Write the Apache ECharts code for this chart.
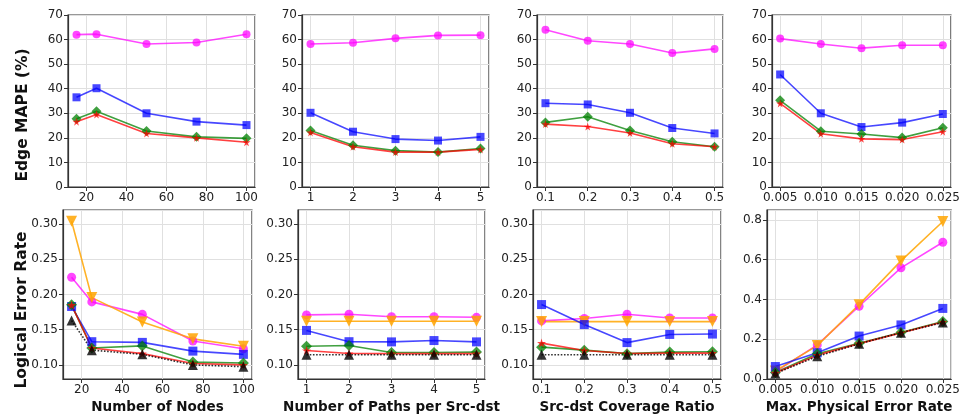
<!DOCTYPE html>
<html><head><meta charset="utf-8">
<script src="https://cdn.jsdelivr.net/npm/echarts@6/dist/echarts.min.js"></script>
<style>html,body{margin:0;padding:0;background:#fff}#c{width:963px;height:415px}</style>
</head><body><div id="c"></div>
<script>
// ---------- x categories ----------
const xNodes = [15, 25, 50, 75, 100];
const xPaths = [1, 2, 3, 4, 5];
const xCoverage = [0.1, 0.2, 0.3, 0.4, 0.5];
const xPhysErr = [0.005, 0.010, 0.015, 0.020, 0.025];

// ---------- Edge MAPE (%) ----------
const mapeNodesMagenta = [62.0, 62.2, 58.2, 58.8, 62.2];
const mapeNodesBlue    = [36.5, 40.2, 30.0, 26.6, 25.2];
const mapeNodesGreen   = [27.8, 30.8, 22.8, 20.4, 19.8];
const mapeNodesRed     = [26.6, 29.5, 21.8, 20.0, 18.2];

const mapePathsMagenta = [58.2, 58.7, 60.5, 61.7, 61.8];
const mapePathsBlue    = [30.2, 22.5, 19.5, 18.9, 20.4];
const mapePathsGreen   = [23.0, 17.0, 14.8, 14.2, 15.7];
const mapePathsRed     = [22.2, 16.4, 14.2, 14.2, 15.3];

const mapeCovMagenta = [64.0, 59.5, 58.2, 54.5, 56.2];
const mapeCovBlue    = [34.1, 33.6, 30.2, 24.0, 21.8];
const mapeCovGreen   = [26.3, 28.6, 23.0, 18.4, 16.4];
const mapeCovRed     = [25.6, 24.6, 22.0, 17.6, 16.4];

const mapeErrMagenta = [60.4, 58.2, 56.5, 57.7, 57.7];
const mapeErrBlue    = [45.8, 30.0, 24.4, 26.2, 29.7];
const mapeErrGreen   = [35.3, 22.7, 21.6, 20.1, 24.1];
const mapeErrRed     = [34.0, 21.7, 19.6, 19.3, 22.5];

// ---------- Logical Error Rate ----------
const lerNodesMagenta = [0.2245, 0.1895, 0.1718, 0.1340, 0.1230];
const lerNodesOrange  = [0.3040, 0.1956, 0.1610, 0.1370, 0.1266];
const lerNodesBlue    = [0.1830, 0.1330, 0.1320, 0.1196, 0.1150];
const lerNodesGreen   = [0.1853, 0.1240, 0.1270, 0.1040, 0.1028];
const lerNodesRed     = [0.1850, 0.1240, 0.1160, 0.1020, 0.1000];
const lerNodesBlack   = [0.1630, 0.1210, 0.1150, 0.1000, 0.0975];

const lerPathsMagenta = [0.1710, 0.1720, 0.1685, 0.1685, 0.1676];
const lerPathsOrange  = [0.1620, 0.1620, 0.1620, 0.1620, 0.1620];
const lerPathsBlue    = [0.1490, 0.1330, 0.1327, 0.1346, 0.1327];
const lerPathsGreen   = [0.1266, 0.1275, 0.1177, 0.1177, 0.1182];
const lerPathsRed     = [0.1205, 0.1163, 0.1160, 0.1160, 0.1160];
const lerPathsBlack   = [0.1145, 0.1145, 0.1145, 0.1145, 0.1145];

const lerCovMagenta = [0.1625, 0.1660, 0.1720, 0.1667, 0.1667];
const lerCovOrange  = [0.1615, 0.1615, 0.1615, 0.1615, 0.1615];
const lerCovBlue    = [0.1857, 0.1573, 0.1317, 0.1433, 0.1438];
const lerCovGreen   = [0.1252, 0.1210, 0.1160, 0.1182, 0.1186];
const lerCovRed     = [0.1310, 0.1205, 0.1163, 0.1168, 0.1168];
const lerCovBlack   = [0.1145, 0.1145, 0.1145, 0.1145, 0.1145];

const lerErrMagenta = [0.036, 0.1715, 0.366, 0.559, 0.688];
const lerErrOrange  = [0.040, 0.168, 0.374, 0.594, 0.792];
const lerErrBlue    = [0.0627, 0.132, 0.216, 0.272, 0.355];
const lerErrGreen   = [0.033, 0.127, 0.180, 0.234, 0.289];
const lerErrRed     = [0.030, 0.120, 0.178, 0.232, 0.287];
const lerErrBlack   = [0.028, 0.114, 0.177, 0.233, 0.284];

// ---------- labels ----------
const xTitles = ['Number of Nodes', 'Number of Paths per Src-dst', 'Src-dst Coverage Ratio', 'Max. Physical Error Rate'];
const yTitleTop = 'Edge MAPE (%)';
const yTitleBottom = 'Logical Error Rate';

// ---------- styling / layout ----------
const FONT = 'DejaVu Sans';
const TXT = '#222';
const SPINE = '#333';
const GRIDC = '#e0e0e0';

const grids = [
  {left: 68, top: 15, width: 187, height: 172},
  {left: 302, top: 15, width: 187, height: 172},
  {left: 537, top: 15, width: 186, height: 172},
  {left: 772, top: 15, width: 187, height: 172},
  {left: 63, top: 210, width: 189, height: 172},
  {left: 298, top: 210, width: 187, height: 172},
  {left: 533, top: 210, width: 188, height: 172},
  {left: 767, top: 210, width: 188, height: 172}
];
const xRanges = [[10.75, 104.25], [0.8, 5.2], [0.08, 0.52], [0.004, 0.026]];
const xFmt = [v => String(Math.round(v)), v => String(Math.round(v)), v => v.toFixed(1), v => v.toFixed(3)];

const STAR = 'path://M50,0 L61,35 L98,35 L68,57 L79,91 L50,70 L21,91 L32,57 L2,35 L39,35 Z';
const styles = {
  magenta: {color: 'rgba(255,0,255,0.72)', symbol: 'circle', size: 8, rot: 0, type: 'solid'},
  orange:  {color: 'rgba(255,165,0,0.85)', symbol: 'triangle', size: 10, rot: 180, type: 'solid'},
  blue:    {color: 'rgba(0,0,255,0.72)', symbol: 'rect', size: 8, rot: 0, type: 'solid'},
  green:   {color: 'rgba(0,128,0,0.75)', symbol: 'diamond', size: 10, rot: 0, type: 'solid'},
  red:     {color: 'rgba(255,0,0,0.75)', symbol: STAR, size: 8, rot: 0, type: 'solid'},
  black:   {color: 'rgba(0,0,0,0.8)', symbol: 'triangle', size: 9, rot: 0, type: 'dotted'}
};

const panels = [
  {x: xNodes, s: {magenta: mapeNodesMagenta, blue: mapeNodesBlue, green: mapeNodesGreen, red: mapeNodesRed}},
  {x: xPaths, s: {magenta: mapePathsMagenta, blue: mapePathsBlue, green: mapePathsGreen, red: mapePathsRed}},
  {x: xCoverage, s: {magenta: mapeCovMagenta, blue: mapeCovBlue, green: mapeCovGreen, red: mapeCovRed}},
  {x: xPhysErr, s: {magenta: mapeErrMagenta, blue: mapeErrBlue, green: mapeErrGreen, red: mapeErrRed}},
  {x: xNodes, s: {magenta: lerNodesMagenta, orange: lerNodesOrange, blue: lerNodesBlue, green: lerNodesGreen, red: lerNodesRed, black: lerNodesBlack}},
  {x: xPaths, s: {magenta: lerPathsMagenta, orange: lerPathsOrange, blue: lerPathsBlue, green: lerPathsGreen, red: lerPathsRed, black: lerPathsBlack}},
  {x: xCoverage, s: {magenta: lerCovMagenta, orange: lerCovOrange, blue: lerCovBlue, green: lerCovGreen, red: lerCovRed, black: lerCovBlack}},
  {x: xPhysErr, s: {magenta: lerErrMagenta, orange: lerErrOrange, blue: lerErrBlue, green: lerErrGreen, red: lerErrRed, black: lerErrBlack}}
];

const axisCommon = {
  axisLine: {show: true, onZero: false, lineStyle: {color: SPINE, width: 1.2}},
  axisTick: {show: true, inside: false, length: 4, lineStyle: {color: SPINE, width: 1}},
  splitLine: {show: true, lineStyle: {color: GRIDC, width: 1}},
  axisLabel: {color: TXT, fontFamily: FONT, fontSize: 12, margin: 5, showMinLabel: false, showMaxLabel: false}
};

const option = {
  animation: false,
  backgroundColor: '#fff',
  grid: grids.map(g => Object.assign({show: true, borderColor: SPINE, borderWidth: 1.2, backgroundColor: 'transparent', containLabel: false}, g)),
  xAxis: grids.map((g, i) => {
    const c = i % 4;
    return Object.assign({}, axisCommon, {
      type: 'value', gridIndex: i,
      min: xRanges[c][0], max: xRanges[c][1], splitNumber: 4,
      axisLabel: Object.assign({}, axisCommon.axisLabel, {formatter: xFmt[c]}),
      name: i >= 4 ? xTitles[c] : '',
      nameLocation: 'middle', nameGap: 21,
      nameTextStyle: {fontFamily: FONT, fontWeight: 'bold', fontSize: 13.5, color: '#111'}
    });
  }),
  yAxis: grids.map((g, i) => {
    let r;
    if (i < 4) r = {min: 0, max: 70, interval: 10, formatter: v => String(Math.round(v)), showMin: true, showMax: true};
    else if (i < 7) r = {min: 0.08, max: 0.32, splitNumber: 5, formatter: v => v.toFixed(2), showMin: false, showMax: false};
    else r = {min: 0, max: 0.85, interval: 0.2, formatter: v => v.toFixed(1), showMin: true, showMax: false};
    const lab = Object.assign({}, axisCommon.axisLabel, {formatter: r.formatter, showMinLabel: r.showMin, showMaxLabel: r.showMax});
    const o = Object.assign({}, axisCommon, {type: 'value', gridIndex: i, min: r.min, max: r.max, axisLabel: lab});
    if (r.interval) o.interval = r.interval; else o.splitNumber = r.splitNumber;
    return o;
  }),
  graphic: [
    {type: 'text', x: 23, y: 115, rotation: Math.PI / 2,
     style: {text: yTitleTop, font: 'bold 15.5px "DejaVu Sans"', fill: '#111', align: 'center', verticalAlign: 'middle'}},
    {type: 'text', x: 22, y: 310, rotation: Math.PI / 2,
     style: {text: yTitleBottom, font: 'bold 15.5px "DejaVu Sans"', fill: '#111', align: 'center', verticalAlign: 'middle'}}
  ],
  series: []
};

panels.forEach((p, i) => {
  Object.keys(p.s).forEach(key => {
    const st = styles[key];
    const big = i >= 4;
    option.series.push({
      type: 'line', name: key, xAxisIndex: i, yAxisIndex: i,
      data: p.x.map((xv, k) => [xv, p.s[key][k]]),
      symbol: st.symbol, symbolRotate: st.rot,
      symbolSize: big ? st.size + 1 : st.size,
      showSymbol: true, clip: false,
      lineStyle: {color: st.color, width: 1.6, type: st.type},
      itemStyle: {color: st.color, opacity: 1},
      z: 2
    });
  });
});

const chart = echarts.init(document.getElementById('c'), null, {renderer: 'canvas'});
chart.setOption(option);
</script></body></html>
